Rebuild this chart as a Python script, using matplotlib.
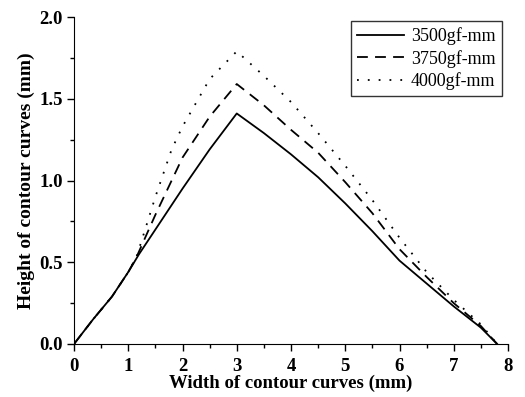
import numpy as np
import matplotlib.pyplot as plt
from matplotlib.ticker import MultipleLocator

plt.rcParams['font.family'] = ['Liberation Serif', 'DejaVu Serif']

# 3500gf-mm
x_3500 = [0, 0.35, 0.7, 1.0, 1.2, 1.5, 2.0, 2.5, 3.0, 3.5, 4.0, 4.5, 5.0, 5.5, 6.0, 6.5, 7.0, 7.5, 7.8]
y_3500 = [0, 0.15, 0.29, 0.44, 0.55, 0.70, 0.95, 1.19, 1.41, 1.29, 1.16, 1.02, 0.86, 0.69, 0.51, 0.37, 0.23, 0.10, 0.0]

# 3750gf-mm
x_3750 = [0, 0.35, 0.7, 1.0, 1.15, 1.5, 2.0, 2.5, 3.0, 3.5, 4.0, 4.5, 5.0, 5.5, 6.0, 6.5, 7.0, 7.5, 7.8]
y_3750 = [0, 0.15, 0.29, 0.44, 0.53, 0.79, 1.14, 1.39, 1.59, 1.46, 1.31, 1.17, 0.99, 0.80, 0.58, 0.41, 0.25, 0.11, 0.0]

# 4000gf-mm
x_4000 = [0, 0.35, 0.7, 1.0, 1.15, 1.5, 1.8, 2.0, 2.5, 3.0, 3.5, 4.0, 4.5, 5.0, 5.5, 6.0, 6.5, 7.0, 7.5, 7.8]
y_4000 = [0, 0.15, 0.29, 0.44, 0.53, 0.90, 1.19, 1.33, 1.62, 1.79, 1.64, 1.48, 1.29, 1.09, 0.88, 0.65, 0.44, 0.27, 0.12, 0.0]

fig = plt.figure(figsize=(5.25, 3.97), dpi=100)
ax = fig.add_axes([74/525, 53/397, 434/525, 327/397])

ax.plot(x_3500, y_3500, '-', color='black', lw=1.3, label='3500gf-mm')
ax.plot(x_3750, y_3750, color='black', lw=1.3, ls=(0, (6, 4)), label='3750gf-mm')
ax.plot(x_4000, y_4000, color='black', lw=1.3, ls=(0, (1, 5)), label='4000gf-mm')

ax.set_xlim(0, 8)
ax.set_ylim(0, 2.0)
ax.xaxis.set_major_locator(MultipleLocator(1))
ax.xaxis.set_minor_locator(MultipleLocator(0.5))
ax.yaxis.set_major_locator(MultipleLocator(0.5))
ax.yaxis.set_minor_locator(MultipleLocator(0.25))
ax.yaxis.set_major_formatter(plt.FormatStrFormatter('%.1f'))

ax.spines['top'].set_visible(False)
ax.spines['right'].set_visible(False)
ax.tick_params(which='major', direction='out', length=5, width=1, pad=3)
ax.tick_params(axis='x', which='major', pad=5)
ax.tick_params(which='minor', direction='out', length=3, width=1)
for lab in ax.get_xticklabels() + ax.get_yticklabels():
    lab.set_fontweight('bold')
    lab.set_fontsize(13.5)

ax.set_xlabel('Width of contour curves (mm)', fontsize=13.5, fontweight='bold', labelpad=0)
ax.set_ylabel('Height of contour curves (mm)', fontsize=14, fontweight='bold', labelpad=3)

leg = ax.legend(loc='upper right', bbox_to_anchor=(502/525, 376/397), bbox_transform=fig.transFigure,
                fontsize=13, fancybox=False, edgecolor='black', handlelength=2.6,
                borderpad=0.35, labelspacing=0.25, handletextpad=0.4, borderaxespad=0)
leg.get_frame().set_linewidth(1)

fig.savefig('out.png', dpi=100)
